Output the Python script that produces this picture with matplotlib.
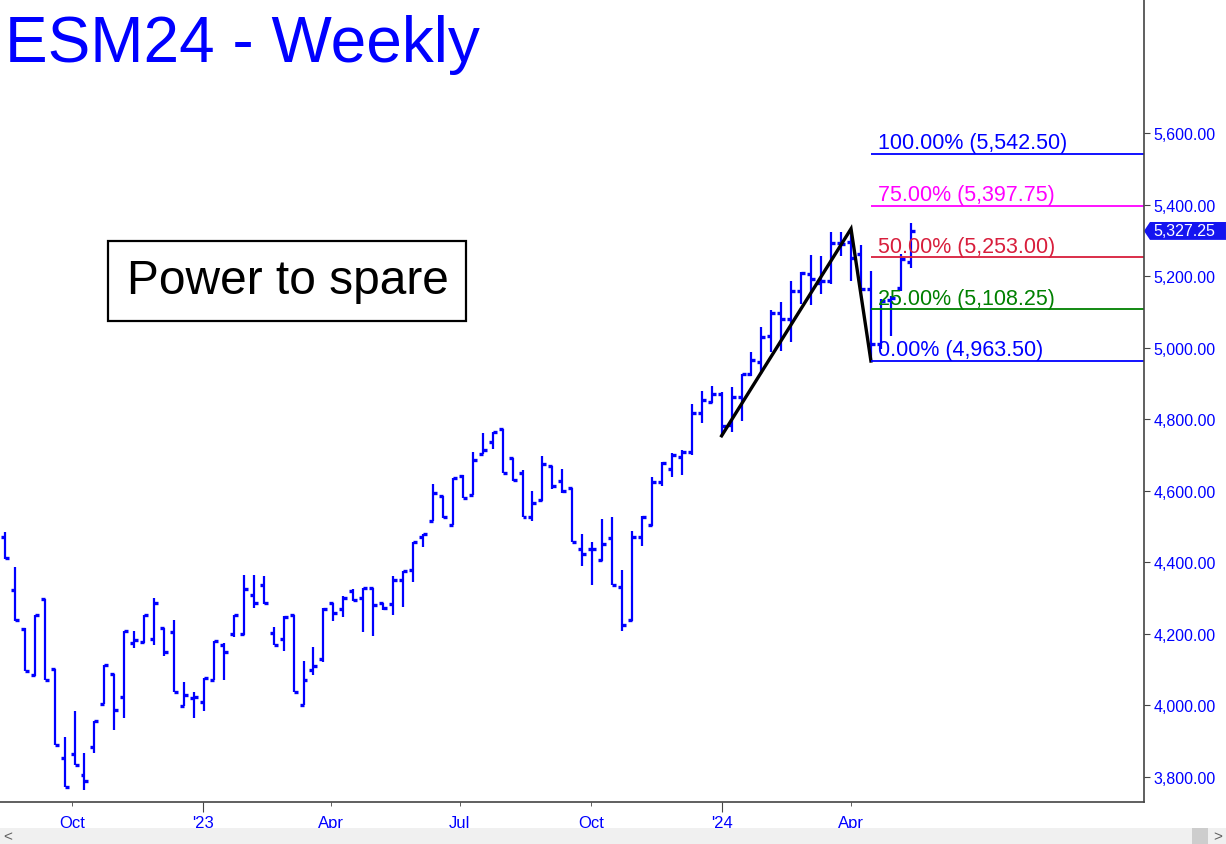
import matplotlib
matplotlib.use("Agg")
import matplotlib.pyplot as plt
import matplotlib.dates as mdates
import matplotlib.transforms as mtrans
from matplotlib.patches import Rectangle, Polygon
import numpy as np
import pandas as pd

plt.rcParams['font.family'] = ['Liberation Sans', 'DejaVu Sans']

# weekly ESM24 bars (week starting Monday)
weeks = pd.date_range("2022-08-15", periods=92, freq="7D")
opens = [4470, 4323, 4214, 4085, 4298, 4102, 3852, 3863, 3805, 3883,
         4003, 4089, 4023, 4174, 4177, 4186, 4218, 4205, 3999, 4020,
         4009, 4072, 4170, 4200, 4200, 4309, 4337, 4203, 4186, 4253,
         4002, 4099, 4130, 4288, 4270, 4319, 4300, 4329, 4287, 4284,
         4352, 4380, 4470, 4517, 4585, 4506, 4641, 4590, 4703, 4736,
         4773, 4692, 4650, 4528, 4575, 4669, 4629, 4607, 4439, 4439,
         4408, 4468, 4330, 4239, 4470, 4506, 4626, 4661, 4694, 4708,
         4818, 4848, 4871, 4784, 4862, 4927, 4962, 5034, 5097, 5081,
         5160, 5207, 5183, 5188, 5293, 5295, 5263, 5165, 5011, 5135,
         5168, 5240]
highs = [4485, 4386, 4216, 4253, 4298, 4102, 3911, 3984, 3866, 3956,
         4113, 4089, 4209, 4209, 4253, 4300, 4218, 4239, 4067, 4039,
         4078, 4181, 4174, 4254, 4365, 4365, 4361, 4219, 4249, 4253,
         4123, 4163, 4272, 4288, 4307, 4326, 4329, 4329, 4287, 4361,
         4377, 4458, 4480, 4619, 4587, 4636, 4644, 4708, 4762, 4766,
         4773, 4692, 4659, 4599, 4699, 4669, 4661, 4607, 4480, 4456,
         4521, 4526, 4379, 4487, 4531, 4638, 4680, 4705, 4714, 4843,
         4880, 4894, 4878, 4890, 4927, 4990, 5058, 5106, 5128, 5188,
         5213, 5260, 5258, 5323, 5323, 5333.25, 5288, 5216, 5137, 5145,
         5262, 5350]
lows = [4410, 4237, 4097, 4083, 4072, 3890, 3773, 3834, 3764, 3866,
        4003, 3932, 3964, 4160, 4175, 4170, 4137, 4039, 3998, 3965,
        3985, 4072, 4072, 4191, 4197, 4272, 4284, 4169, 4151, 4039,
        4002, 4086, 4121, 4237, 4247, 4291, 4205, 4195, 4267, 4254,
        4275, 4344, 4442, 4517, 4524, 4506, 4579, 4589, 4703, 4717,
        4649, 4629, 4526, 4515, 4573, 4605, 4594, 4456, 4389, 4338,
        4403, 4338, 4209, 4237, 4447, 4503, 4615, 4640, 4645, 4700,
        4790, 4845, 4754.25, 4764, 4797, 4922, 4927, 4990, 4992, 5016,
        5123, 5120, 5151, 5179, 5258, 5186, 5165, 4963.5, 4997, 5033,
        5160, 5225]
closes = [4412, 4239, 4097, 4253, 4072, 3890, 3773, 3834, 3788, 3956,
          4113, 3986, 4209, 4183, 4253, 4288, 4149, 4039, 4029, 4025,
          4078, 4181, 4149, 4254, 4326, 4288, 4286, 4170, 4247, 4039,
          4070, 4111, 4270, 4259, 4300, 4296, 4329, 4281, 4272, 4352,
          4377, 4456, 4480, 4594, 4526, 4636, 4579, 4686, 4715, 4766,
          4649, 4631, 4526, 4565, 4675, 4613, 4599, 4456, 4424, 4437,
          4453, 4338, 4225, 4470, 4528, 4626, 4678, 4701, 4708, 4817,
          4854, 4871, 4783, 4864, 4927, 4966, 5032, 5097, 5081, 5160,
          5210, 5193, 5188, 5293, 5291, 5251, 5165, 5010, 5132, 5140,
          5248, 5327.25]

# ABC swing used for the Fibonacci targets
swing_dates = pd.to_datetime(["2024-01-01", "2024-04-01", "2024-04-15"])
swing_prices = [4754.25, 5333.25, 4963.50]
fib_pcts = ["0.00%", "25.00%", "50.00%", "75.00%", "100.00%"]
fib_levels = [4963.50, 5108.25, 5253.00, 5397.75, 5542.50]
fib_colors = ["#0000ff", "#008000", "#d81e3c", "#ff00ff", "#0000ff"]

year_ticks = pd.to_datetime(["2023-01-01", "2024-01-01"])
month_ticks = pd.to_datetime(["2022-10-01", "2023-04-01", "2023-07-01",
                              "2023-10-01", "2024-04-01"])

blue = "#0000ff"
fig = plt.figure(figsize=(12.26, 8.45), dpi=100)
ax = fig.add_axes([0, 0.0497, 0.9331, 0.9503])

x = mdates.date2num(weeks)
tick = 2.8  # days
ax.vlines(x, lows, highs, color=blue, lw=1.6)
ax.hlines(opens, x - tick, x, color=blue, lw=2.4)
ax.hlines(closes, x, x + tick, color=blue, lw=2.4)

ax.plot(mdates.date2num(swing_dates), swing_prices, color="black", lw=2.4,
        solid_joinstyle="miter")

xmin = mdates.date2num(pd.Timestamp("2022-08-11 14:00"))
xmax = mdates.date2num(pd.Timestamp("2024-10-24"))
xc = mdates.date2num(swing_dates[2])
for pct, lvl, col in zip(fib_pcts, fib_levels, fib_colors):
    ax.hlines(lvl, xc, xmax, color=col, lw=1.3)
    ax.annotate(f"{pct} ({lvl:,.2f})", (xc, lvl), xytext=(5, 4),
                textcoords="offset points", color=col, fontsize=15.5,
                va="baseline", ha="left")

ax.set_xlim(xmin, xmax)
ax.set_ylim(3730, 5976)

for s in ["top", "left"]:
    ax.spines[s].set_visible(False)
for s in ["right", "bottom"]:
    ax.spines[s].set_color("#444444")
    ax.spines[s].set_linewidth(1.2)

ax.yaxis.tick_right()
ax.set_yticks(np.arange(3800, 5601, 200))
ax.yaxis.set_major_formatter(plt.FuncFormatter(lambda v, p: f"{v:,.2f}"))
ax.tick_params(axis="y", colors="#444444", labelcolor=blue, labelsize=11.5,
               length=4, pad=3)

ax.set_xticks(mdates.date2num(year_ticks))
ax.set_xticklabels([d.strftime("'%y") for d in year_ticks])
ax.set_xticks(mdates.date2num(month_ticks), minor=True)
ax.set_xticklabels([d.strftime("%b") for d in month_ticks], minor=True)
ax.tick_params(axis="x", which="major", colors="#444444", labelcolor=blue,
               labelsize=12, length=7, pad=2)
ax.tick_params(axis="x", which="minor", colors="#444444", labelcolor=blue,
               labelsize=12, length=3, pad=6)

# last price flag
yx = mtrans.blended_transform_factory(ax.transAxes, ax.transData)
last = closes[-1]
hw = 25  # half height in price units
fx = 1 / 1144
ax.add_patch(Polygon([(1.0, last), (1.0 + 6 * fx, last + hw),
                      (1.0 + 82 * fx, last + hw), (1.0 + 82 * fx, last - hw),
                      (1.0 + 6 * fx, last - hw)], closed=True,
                     transform=yx, fc="#1515f0", ec="none", clip_on=False))
ax.text(1.0 + 9 * fx, last, f"{last:,.2f}", transform=yx, color="white",
        fontsize=11.5, va="center", ha="left", clip_on=False)

fig.text(5 / 1226, 1 - 62 / 845, "ESM24 - Weekly", color=blue, fontsize=46,
         va="baseline", ha="left")

fig.patches.append(Rectangle((108 / 1226, 1 - 322 / 845), 358 / 1226, 80 / 845,
                             transform=fig.transFigure, fill=False,
                             ec="black", lw=1.6))
fig.text(288 / 1226, 1 - 282 / 845, "Power to spare", fontsize=34.5,
         ha="center", va="center", color="black")

# scrollbar strip
fig.patches.append(Rectangle((0, 0), 1, 16 / 845, transform=fig.transFigure,
                             fc="#f0f0f0", ec="none"))
fig.patches.append(Rectangle((1192 / 1226, 0), 16 / 1226, 16 / 845,
                             transform=fig.transFigure, fc="#cdcdcd", ec="none"))
fig.text(8 / 1226, 8 / 845, "<", color="#606060", fontsize=11, ha="center", va="center")
fig.text(1218 / 1226, 8 / 845, ">", color="#606060", fontsize=11, ha="center", va="center")

fig.savefig("out.png", dpi=100, facecolor="white")
